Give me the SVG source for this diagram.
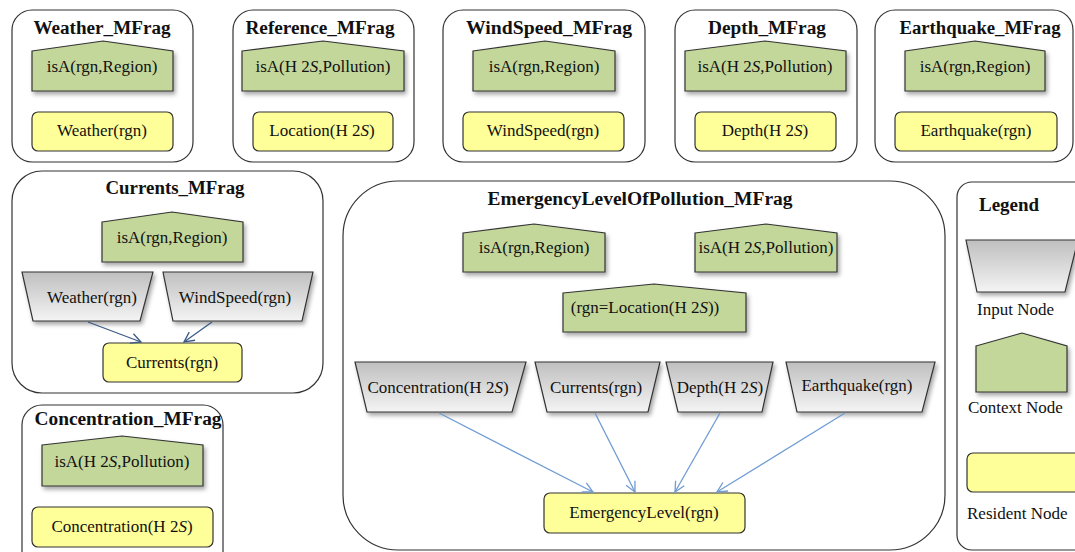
<svg xmlns="http://www.w3.org/2000/svg" width="1075" height="552" viewBox="0 0 1075 552">
<style>
text{font-family:"Liberation Serif","Times New Roman",serif;fill:#111;}
.t{font-size:18px;font-weight:bold;text-anchor:middle;}
.n{font-size:17px;text-anchor:middle;}
.l{font-size:17px;}
.lt{font-size:19px;font-weight:bold;}
.frag{fill:#fff;stroke:#333;stroke-width:1.2;}
.ctx{fill:#c4d79b;stroke:#333;stroke-width:1.2;filter:url(#sh);}
.res{fill:#ffff99;stroke:#333;stroke-width:1.2;}
.inp{fill:url(#g);stroke:#333;stroke-width:1.2;filter:url(#sh);}
.e1{stroke:#3b5b87;stroke-width:1.3;fill:none;marker-end:url(#a1);}
.e2{stroke:#6f9bd4;stroke-width:1.3;fill:none;marker-end:url(#a2);}
</style>
<defs>
<linearGradient id="g" x1="0" y1="0" x2="0" y2="1"><stop offset="0" stop-color="#bfbfbf"/><stop offset="1" stop-color="#f4f4f4"/></linearGradient>
<filter id="sh" x="-10%" y="-10%" width="130%" height="140%"><feDropShadow dx="2" dy="3" stdDeviation="2" flood-color="#000" flood-opacity="0.35"/></filter>
<marker id="a1" viewBox="0 0 12 12" refX="11" refY="6" markerWidth="12" markerHeight="12" markerUnits="userSpaceOnUse" orient="auto"><path d="M1,1 L11,6 L1,11" fill="none" stroke="#3b5b87" stroke-width="1.3"/></marker>
<marker id="a2" viewBox="0 0 12 12" refX="11" refY="6" markerWidth="12" markerHeight="12" markerUnits="userSpaceOnUse" orient="auto"><path d="M1,1 L11,6 L1,11" fill="none" stroke="#6f9bd4" stroke-width="1.3"/></marker>
</defs>
<rect width="1075" height="552" fill="#fff"/>

<g id="Weather_MFrag">
<rect class="frag" x="12" y="10" width="181" height="152" rx="20"/>
<text class="t" x="102" y="34" textLength="137" lengthAdjust="spacingAndGlyphs">Weather_MFrag</text>
<path class="ctx" d="M32,51 L103,41 L173,51 L173,91 L32,91 Z"/>
<text class="n" x="102" y="72">isA(rgn,Region)</text>
<rect class="res" x="32" y="112" width="141" height="39" rx="6"/>
<text class="n" x="102" y="136">Weather(rgn)</text>
</g>

<g id="Reference_MFrag">
<rect class="frag" x="233" y="10" width="181" height="152" rx="20"/>
<text class="t" x="320" y="34" textLength="149" lengthAdjust="spacingAndGlyphs">Reference_MFrag</text>
<path class="ctx" d="M242,51 L323,41 L404,51 L404,91 L242,91 Z"/>
<text class="n" x="323" y="72">isA(H 2<tspan font-style="italic">S</tspan>,Pollution)</text>
<rect class="res" x="253" y="112" width="140" height="39" rx="6"/>
<text class="n" x="322" y="136">Location(H 2<tspan font-style="italic">S</tspan>)</text>
</g>

<g id="WindSpeed_MFrag">
<rect class="frag" x="443" y="10" width="202" height="152" rx="20"/>
<text class="t" x="549" y="34" textLength="166" lengthAdjust="spacingAndGlyphs">WindSpeed_MFrag</text>
<path class="ctx" d="M473,51 L545,41 L615,51 L615,91 L473,91 Z"/>
<text class="n" x="544" y="72">isA(rgn,Region)</text>
<rect class="res" x="463" y="112" width="161" height="39" rx="6"/>
<text class="n" x="543" y="136">WindSpeed(rgn)</text>
</g>

<g id="Depth_MFrag">
<rect class="frag" x="675" y="10" width="182" height="152" rx="20"/>
<text class="t" x="767" y="34" textLength="118" lengthAdjust="spacingAndGlyphs">Depth_MFrag</text>
<path class="ctx" d="M685,51 L765,41 L846,51 L846,91 L685,91 Z"/>
<text class="n" x="765" y="72">isA(H 2<tspan font-style="italic">S</tspan>,Pollution)</text>
<rect class="res" x="695" y="112" width="141" height="39" rx="6"/>
<text class="n" x="765" y="136">Depth(H 2<tspan font-style="italic">S</tspan>)</text>
</g>

<g id="Earthquake_MFrag">
<rect class="frag" x="875" y="10" width="198" height="152" rx="20"/>
<text class="t" x="980" y="34" textLength="161" lengthAdjust="spacingAndGlyphs">Earthquake_MFrag</text>
<path class="ctx" d="M905,51 L975,41 L1045,51 L1045,91 L905,91 Z"/>
<text class="n" x="975" y="72">isA(rgn,Region)</text>
<rect class="res" x="895" y="112" width="162" height="39" rx="6"/>
<text class="n" x="976" y="136">Earthquake(rgn)</text>
</g>

<g id="Currents_MFrag">
<rect class="frag" x="12" y="171" width="311" height="222" rx="30"/>
<text class="t" x="175" y="194" textLength="139" lengthAdjust="spacingAndGlyphs">Currents_MFrag</text>
<path class="ctx" d="M102,222 L172,212 L243,222 L243,262 L102,262 Z"/>
<text class="n" x="172" y="243">isA(rgn,Region)</text>
<path class="inp" d="M22,272 L153,272 L140,321 L33,321 Z"/>
<text class="n" x="92" y="303">Weather(rgn)</text>
<path class="inp" d="M163,272 L313,272 L302,321 L173,321 Z"/>
<text class="n" x="235" y="303">WindSpeed(rgn)</text>
<rect class="res" x="103" y="343" width="139" height="39" rx="6"/>
<text class="n" x="172" y="368">Currents(rgn)</text>
</g>

<g id="Concentration_MFrag">
<rect class="frag" x="22" y="405" width="201" height="170" rx="20"/>
<text class="t" x="128" y="425" textLength="187" lengthAdjust="spacingAndGlyphs">Concentration_MFrag</text>
<path class="ctx" d="M42,445 L122,436 L203,445 L203,486 L42,486 Z"/>
<text class="n" x="122" y="467">isA(H 2<tspan font-style="italic">S</tspan>,Pollution)</text>
<rect class="res" x="32" y="507" width="181" height="40" rx="6"/>
<text class="n" x="122" y="532">Concentration(H 2<tspan font-style="italic">S</tspan>)</text>
</g>

<g id="EmergencyLevelOfPollution_MFrag">
<rect class="frag" x="343" y="181" width="602" height="369" rx="55"/>
<text class="t" x="640" y="205" textLength="305" lengthAdjust="spacingAndGlyphs">EmergencyLevelOfPollution_MFrag</text>
<path class="ctx" d="M463,233 L534,224 L605,233 L605,272 L463,272 Z"/>
<text class="n" x="534" y="253">isA(rgn,Region)</text>
<path class="ctx" d="M695,233 L766,224 L837,233 L837,272 L695,272 Z"/>
<text class="n" x="766" y="253">isA(H 2<tspan font-style="italic">S</tspan>,Pollution)</text>
<path class="ctx" d="M563,293 L654,284 L746,293 L746,332 L563,332 Z"/>
<text class="n" x="645" y="313">(rgn=Location(H 2<tspan font-style="italic">S</tspan>))</text>
<path class="inp" d="M355,362 L526,362 L512,412 L367,412 Z"/>
<text class="n" x="438" y="393">Concentration(H 2<tspan font-style="italic">S</tspan>)</text>
<path class="inp" d="M535,362 L660,362 L648,412 L547,412 Z"/>
<text class="n" x="596" y="393">Currents(rgn)</text>
<path class="inp" d="M666,362 L773,362 L762,412 L678,412 Z"/>
<text class="n" x="720" y="393">Depth(H 2<tspan font-style="italic">S</tspan>)</text>
<path class="inp" d="M786,362 L935,362 L922,412 L797,412 Z"/>
<text class="n" x="857" y="391">Earthquake(rgn)</text>
<rect class="res" x="544" y="493" width="201" height="40" rx="6"/>
<text class="n" x="644" y="518">EmergencyLevel(rgn)</text>
</g>

<g id="Legend">
<rect class="frag" x="957" y="182" width="140" height="368" rx="15"/>
<text class="lt" x="979" y="211">Legend</text>
<path class="inp" d="M966,240 L1078,240 L1065,292 L977,292 Z"/>
<text class="l" x="977" y="315">Input Node</text>
<path class="ctx" d="M976,346 L1022,333 L1067,346 L1067,392 L976,392 Z"/>
<text class="l" x="968" y="413">Context Node</text>
<rect class="res" x="967" y="453" width="120" height="39" rx="6"/>
<text class="l" x="967" y="519">Resident Node</text>
</g>

<g id="connectors">
<line class="e1" x1="88" y1="322" x2="141" y2="342"/>
<line class="e1" x1="212" y1="322" x2="184" y2="342"/>
<line class="e2" x1="439" y1="413" x2="593" y2="492"/>
<line class="e2" x1="595" y1="413" x2="635" y2="492"/>
<line class="e2" x1="720" y1="413" x2="675" y2="492"/>
<line class="e2" x1="845" y1="413" x2="717" y2="492"/>
</g>
</svg>
